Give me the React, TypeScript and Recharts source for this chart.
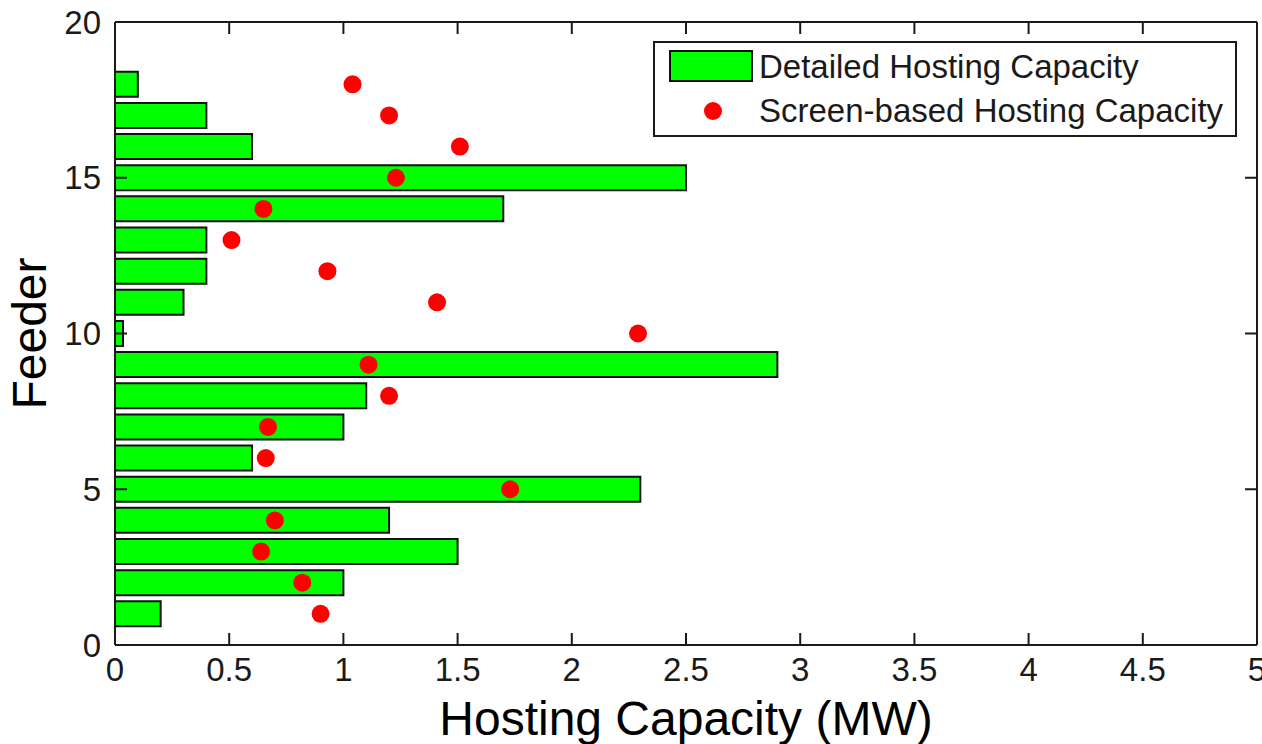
import React from "react";
import {
  ComposedChart,
  Bar,
  Scatter,
  XAxis,
  YAxis,
  ReferenceLine,
} from "recharts";

const feeders = [1, 2, 3, 4, 5, 6, 7, 8, 9, 10, 11, 12, 13, 14, 15, 16, 17, 18];
const detailedHC = [0.2, 1.0, 1.5, 1.2, 2.3, 0.6, 1.0, 1.1, 2.9, 0.035, 0.3, 0.4, 0.4, 1.7, 2.5, 0.6, 0.4, 0.1];
const screenHC = [0.9, 0.82, 0.64, 0.7, 1.73, 0.66, 0.67, 1.2, 1.11, 2.29, 1.41, 0.93, 0.51, 0.65, 1.23, 1.51, 1.2, 1.04];
const xTicks = [0, 0.5, 1, 1.5, 2, 2.5, 3, 3.5, 4, 4.5, 5];
const yTicks = [0, 5, 10, 15, 20];
const seriesNames = ["Detailed Hosting Capacity", "Screen-based Hosting Capacity"];

const data = feeders.map((f, i) => ({
  feeder: f,
  detailed: detailedHC[i],
  screen: screenHC[i],
}));

const FONT = "'Liberation Sans', Arial, sans-serif";
const AXIS = "#1a1a1a";
const TEXT = "#1a1a1a";

const W = 1262;
const H = 744;
const M = { top: 22, right: 5, bottom: 0, left: 0 };
const X_AXIS_H = 99;
const Y_AXIS_W = 115;
const X_MAX = 5;
const Y_MAX = 20;
const plotW = W - M.left - M.right - Y_AXIS_W;
// MATLAB-style inward tick marks, 12px long
const TICK_PX = 12;
const yTickLen = (TICK_PX / plotW) * X_MAX;

// anchor points for the tick marks on the bottom and top edges
const bottomTickPts = xTicks.map((t) => ({ tx: t, feeder: 0 }));
const topTickPts = xTicks.map((t) => ({ tx: t, feeder: Y_MAX }));

function MatlabLegend() {
  return (
    <div
      style={{
        position: "absolute",
        left: 653,
        top: 41,
        width: 580,
        height: 92,
        border: `2px solid ${AXIS}`,
        background: "#fff",
        fontFamily: FONT,
        fontSize: 33,
        color: TEXT,
      }}
    >
      <svg width={100} height={92} style={{ position: "absolute", left: 0, top: 0 }}>
        <rect x={15} y={8} width={82} height={30} fill="#00ff00" stroke="#111" strokeWidth={2} />
        <circle cx={58} cy={68} r={9} fill="#ff0000" />
      </svg>
      <div style={{ position: "absolute", left: 104, top: 5, lineHeight: "38px", whiteSpace: "nowrap" }}>
        {seriesNames[0]}
      </div>
      <div style={{ position: "absolute", left: 104, top: 49, lineHeight: "38px", whiteSpace: "nowrap" }}>
        {seriesNames[1]}
      </div>
    </div>
  );
}

export default function App() {
  const tickStyle = { fill: TEXT, fontSize: 33, fontFamily: FONT };
  const frame = { stroke: AXIS, strokeWidth: 2 };
  return (
    <div style={{ position: "absolute", left: 0, top: 0, width: W, height: H, background: "#fff" }}>
      <ComposedChart width={W} height={H} data={data} layout="vertical" margin={M}>
        <XAxis
          type="number"
          domain={[0, X_MAX]}
          ticks={xTicks}
          interval={0}
          height={X_AXIS_H}
          tick={tickStyle}
          tickSize={0}
          tickMargin={13}
          tickLine={false}
          axisLine={frame}
          label={{
            value: "Hosting Capacity (MW)",
            position: "insideBottom",
            offset: 9,
            style: { fontSize: 48, fontFamily: FONT, fill: "#000" },
          }}
        />
        <YAxis
          dataKey="feeder"
          type="number"
          reversed
          domain={[0, Y_MAX]}
          ticks={yTicks}
          interval={0}
          width={Y_AXIS_W}
          tick={tickStyle}
          tickSize={0}
          tickMargin={14}
          tickLine={false}
          axisLine={frame}
          label={{
            value: "Feeder",
            angle: -90,
            position: "insideLeft",
            offset: 29,
            style: { fontSize: 48, fontFamily: FONT, fill: "#000", textAnchor: "middle" },
          }}
        />
        <Bar
          dataKey="detailed"
          name={seriesNames[0]}
          barSize={25}
          fill="#00ff00"
          stroke="#111"
          strokeWidth={2}
          isAnimationActive={false}
        />
        <Scatter
          dataKey="screen"
          name={seriesNames[1]}
          fill="#ff0000"
          shape={(p: any) => <circle cx={p.cx} cy={p.cy} r={9} fill="#ff0000" />}
          isAnimationActive={false}
        />
        {/* box frame */}
        <ReferenceLine y={Y_MAX} {...frame} />
        <ReferenceLine x={X_MAX} {...frame} />
        {/* inward ticks on bottom and top edges */}
        <Scatter
          data={bottomTickPts}
          dataKey="tx"
          legendType="none"
          shape={(p: any) => (
            <line x1={p.cx} x2={p.cx} y1={p.cy} y2={p.cy - TICK_PX} stroke={AXIS} strokeWidth={2} />
          )}
          isAnimationActive={false}
        />
        <Scatter
          data={topTickPts}
          dataKey="tx"
          legendType="none"
          shape={(p: any) => (
            <line x1={p.cx} x2={p.cx} y1={p.cy} y2={p.cy + TICK_PX} stroke={AXIS} strokeWidth={2} />
          )}
          isAnimationActive={false}
        />
        {/* inward ticks on left and right edges */}
        {yTicks.map((t) => (
          <ReferenceLine
            key={`yl${t}`}
            segment={[{ x: 0, y: t }, { x: yTickLen, y: t }]}
            {...frame}
          />
        ))}
        {yTicks.map((t) => (
          <ReferenceLine
            key={`yr${t}`}
            segment={[{ x: X_MAX, y: t }, { x: X_MAX - yTickLen, y: t }]}
            {...frame}
          />
        ))}
      </ComposedChart>
      <MatlabLegend />
    </div>
  );
}
